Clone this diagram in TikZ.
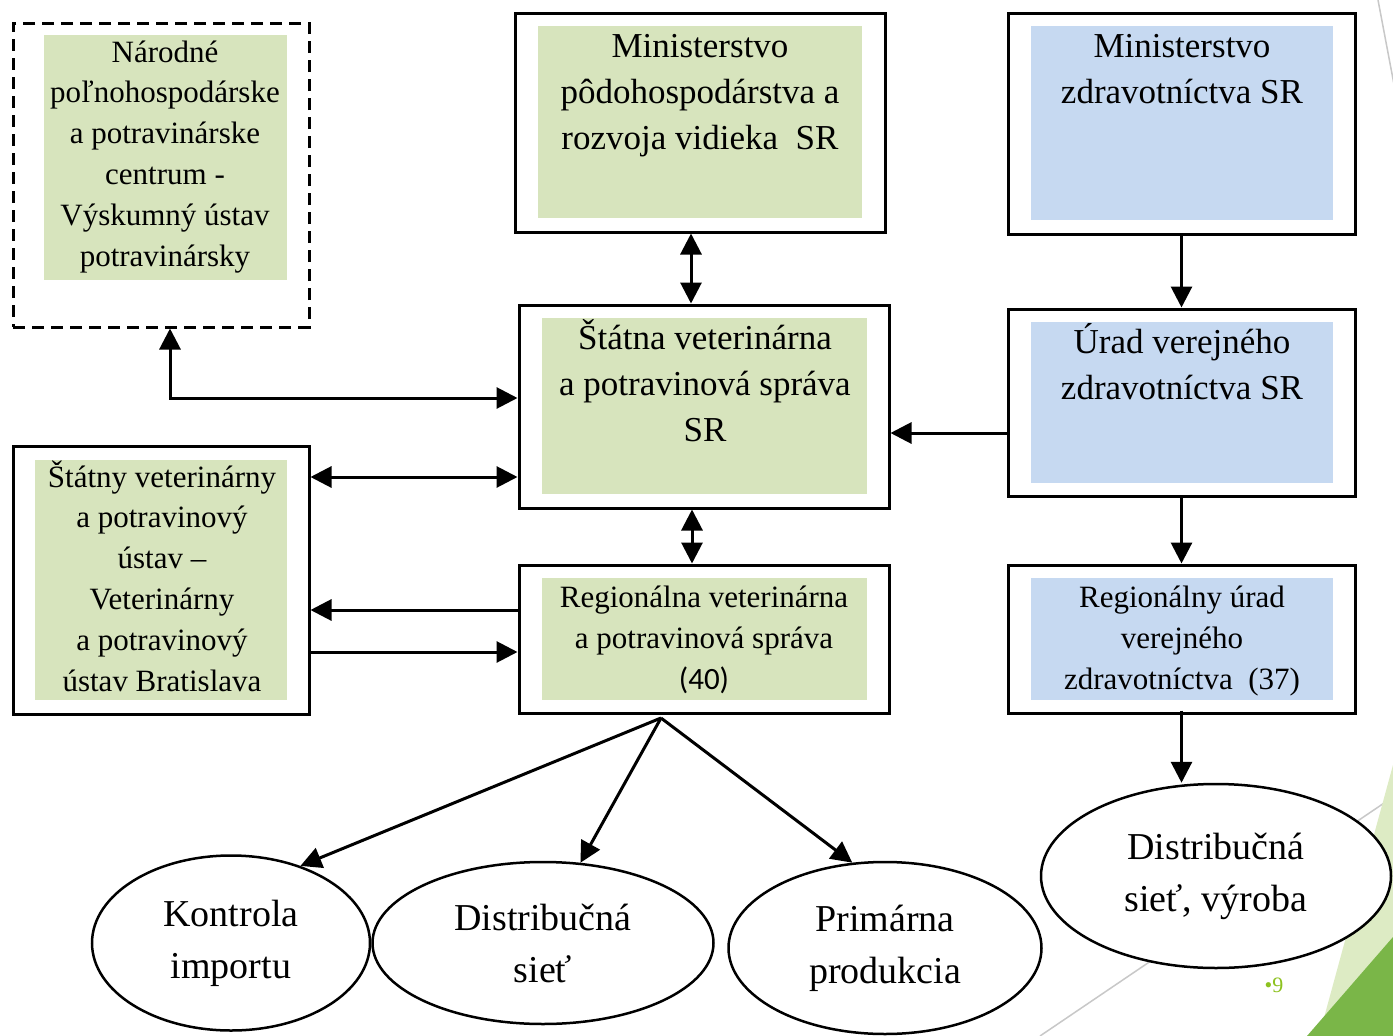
\documentclass[tikz,border=0pt]{standalone}
\usepackage{fontspec}
\setmainfont{Liberation Serif}
\newfontfamily\calibri{Carlito}
\usetikzlibrary{arrows.meta,shapes.geometric}
\definecolor{agrigreen}{HTML}{D7E4BD}
\definecolor{healthblue}{HTML}{C6D9F1}
\definecolor{slidelight}{HTML}{DDEBC4}
\definecolor{slidedark}{HTML}{7AB648}
\definecolor{slidegray}{HTML}{C8C8C8}
\definecolor{pagenum}{HTML}{8DC21F}
\tikzset{
  frame/.style={draw, line width=3pt, inner sep=0pt},
  dashframe/.style={draw, line width=3pt, dash pattern=on 12pt off 7pt, inner sep=0pt},
  agri/.style={fill=agrigreen, inner sep=0pt},
  health/.style={fill=healthblue, inner sep=0pt},
  bigtxt/.style={align=center, anchor=base, inner sep=0pt, font=\fontsize{35}{46}\selectfont},
  smalltxt/.style={align=center, anchor=base, inner sep=0pt, font=\fontsize{31}{40.8}\selectfont},
  oval/.style={ellipse, draw, fill=white, line width=2.5pt, inner sep=0pt, align=center, font=\fontsize{38}{52}\selectfont},
  arr/.style={line width=3pt, -{Triangle[length=21pt,width=21pt]}},
  both/.style={line width=3pt, {Triangle[length=21pt,width=21pt]}-{Triangle[length=21pt,width=21pt]}}
}
\begin{document}
\begin{tikzpicture}[x=1pt,y=-1pt]
\useasboundingbox (0,0) rectangle (1393,1036);
\fill[white] (0,0) rectangle (1393,1036);
% slide background
\draw[slidegray, line width=1.5pt] (1378,0) -- (1396,95);
\draw[slidegray, line width=1.5pt] (1040,1036) -- (1393,797);
\fill[slidelight] (1393,765) -- (1319,1036) -- (1393,1036) -- cycle;
\fill[slidedark] (1307,1036) -- (1393,937) -- (1393,1036) -- cycle;
\node[text=pagenum, font=\fontsize{22}{22}\selectfont] (page) at (1274,985) {•9};

% boxes (text nodes sit on their last baseline)
\node[dashframe, minimum width=296pt, minimum height=304pt] (NPC) at (161,175) {};
\node[agri, minimum width=243pt, minimum height=245pt] (NPCbg) at (165.5,157.5) {};
\node[smalltxt] (NPCt) at (165,266) {Národné\\poľnohospodárske\\a potravinárske\\centrum -\\Výskumný ústav\\potravinársky};

\node[frame, minimum width=370pt, minimum height=219pt] (MPRV) at (700,122.5) {};
\node[agri, minimum width=324pt, minimum height=192pt] (MPRVbg) at (700,122) {};
\node[bigtxt] (MPRVt) at (700,149) {Ministerstvo\\pôdohospodárstva a\\rozvoja vidieka~~SR};

\node[frame, minimum width=347pt, minimum height=221pt] (MZ) at (1181.5,123.5) {};
\node[health, minimum width=302pt, minimum height=194pt] (MZbg) at (1182,123) {};
\node[bigtxt] (MZt) at (1182,103) {Ministerstvo\\zdravotníctva SR};

\node[frame, minimum width=370pt, minimum height=203pt] (SVPS) at (704,406.5) {};
\node[agri, minimum width=325pt, minimum height=176pt] (SVPSbg) at (704.5,406) {};
\node[bigtxt] (SVPSt) at (705,441) {Štátna veterinárna\\a potravinová správa\\SR};

\node[frame, minimum width=347pt, minimum height=187pt] (UVZ) at (1181.5,402.5) {};
\node[health, minimum width=302pt, minimum height=161pt] (UVZbg) at (1182,402.5) {};
\node[bigtxt] (UVZt) at (1182,399) {Úrad verejného\\zdravotníctva SR};

\node[frame, minimum width=296pt, minimum height=268pt] (SVPU) at (161,580) {};
\node[agri, minimum width=252pt, minimum height=240pt] (SVPUbg) at (161,580) {};
\node[smalltxt] (SVPUt) at (162,691) {Štátny veterinárny\\a potravinový\\ústav --\\Veterinárny\\a potravinový\\ústav Bratislava};

\node[frame, minimum width=370pt, minimum height=148pt] (RVPS) at (704,639) {};
\node[agri, minimum width=325pt, minimum height=122pt] (RVPSbg) at (704.5,639) {};
\node[smalltxt] (RVPSt) at (704,689) {Regionálna veterinárna\\a potravinová správa\\{\calibri (40)}};

\node[frame, minimum width=347pt, minimum height=148pt] (RUVZ) at (1181.5,639) {};
\node[health, minimum width=302pt, minimum height=122pt] (RUVZbg) at (1182,639) {};
\node[smalltxt] (RUVZt) at (1182,689) {Regionálny úrad\\verejného\\zdravotníctva~~(37)};

% ovals
\node[oval, minimum width=278pt, minimum height=175pt] (KI) at (231,943) {Kontrola\\importu};
\node[oval, minimum width=341pt, minimum height=162pt] (DS) at (543,943) {Distribučná\\sieť};
\node[oval, minimum width=313pt, minimum height=172pt] (PP) at (885,948) {Primárna\\produkcia};
\node[oval, minimum width=350pt, minimum height=184pt] (DSV) at (1216,876) {Distribučná\\sieť, výroba};

% connectors
\draw[both] (MPRV.south -| 691,0) -- (SVPS.north -| 691,0);
\draw[arr] (MZ.south) -- (UVZ.north);
\draw[arr] (UVZ.west |- 0,433) -- (SVPS.east |- 0,433);
\draw[arr] (UVZ.south) -- (RUVZ.north);
\draw[arr] ([yshift=4pt]RUVZ.south) -- (DSV.north -| RUVZ.south);
\draw[both] (SVPS.south -| 692,0) -- (RVPS.north -| 692,0);
\draw[both] (NPC.south -| 170,0) |- (SVPS.west |- 0,398);
\draw[both] (SVPU.east |- 0,477) -- (SVPS.west |- 0,477);
\draw[arr] (RVPS.west |- 0,610) -- (SVPU.east |- 0,610);
\draw[arr] (SVPU.east |- 0,652) -- (RVPS.west |- 0,652);
\coordinate (fork) at (661,718);
\draw[arr] (fork) -- (KI.48);
\draw[arr] (fork) -- (DS.65);
\draw[arr] (fork) -- (PP.111);
\end{tikzpicture}
\end{document}
